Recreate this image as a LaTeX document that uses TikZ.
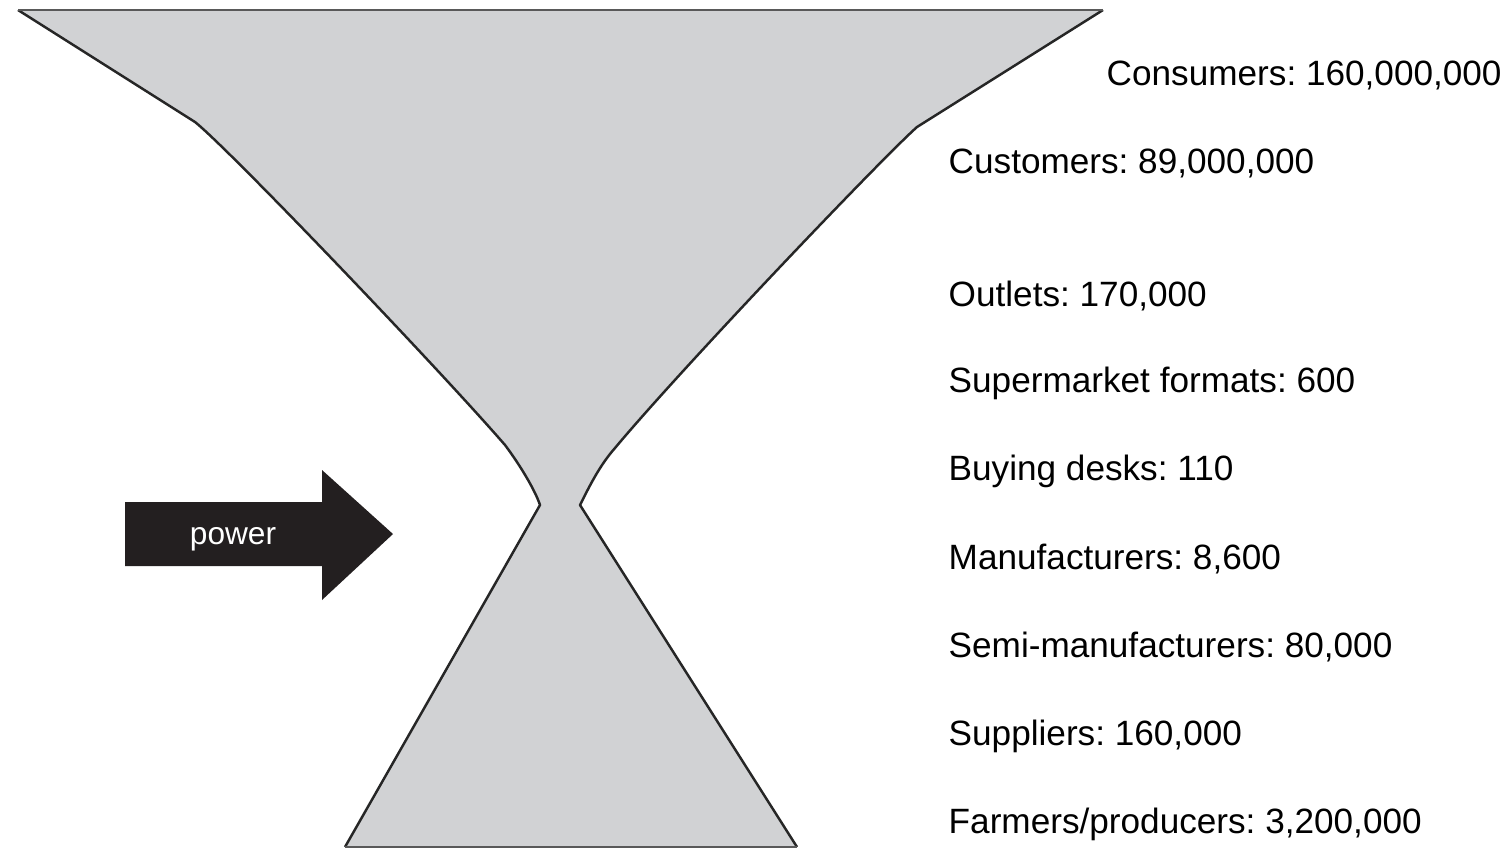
\documentclass[tikz,border=0pt]{standalone}
\usepackage{fontspec}
\setmainfont{Liberation Sans}
\frenchspacing
\definecolor{glassgray}{HTML}{D1D2D4}
\definecolor{arrowblack}{HTML}{231F20}
\begin{document}
\begin{tikzpicture}[x=0.01cm,y=-0.01cm]
    \useasboundingbox (0,0) rectangle (1504,848);

    % Draw hourglass
    \fill[glassgray] (18,10) -- (1103,10) -- (917,127)
        .. controls (880,160) and (680,370) .. (615,448)
        .. controls (600,465) and (590,485) .. (580,505)
        -- (797,847) -- (345,847) -- (540,505)
        .. controls (535,490) and (520,465) .. (505,445)
        .. controls (440,370) and (230,150) .. (195,122) -- cycle;
    \draw[black!85, line width=0.7pt, line join=round]
        (18,10) -- (195,122)
        .. controls (230,150) and (440,370) .. (505,445)
        .. controls (520,465) and (535,490) .. (540,505) -- (345,847);
    \draw[black!85, line width=0.7pt, line join=round]
        (1103,10) -- (917,127)
        .. controls (880,160) and (680,370) .. (615,448)
        .. controls (600,465) and (590,485) .. (580,505) -- (797,847);
    \draw[black!65, line width=0.6pt] (18,10) -- (1103,10);
    \draw[black!65, line width=0.6pt] (345,847) -- (797,847);

    % Power arrow
    \fill[arrowblack] (125,502) -- (322,502) -- (322,470) -- (393,534)
        -- (322,600) -- (322,566) -- (125,566) -- cycle;
    \node[text=white, font=\fontsize{9}{10}\selectfont] (power) at (233,539) {power};

    % Label the levels
    \node[anchor=west, inner sep=0pt, font=\fontsize{10}{12}\selectfont] (consumers) at (1106,75) {Consumers: 160,000,000};
    \foreach \name/\y/\txt in {customers/163/{Customers: 89,000,000},
        outlets/296/{Outlets: 170,000},
        formats/383/{Supermarket formats: 600},
        desks/471/{Buying desks: 110},
        manufacturers/559/{Manufacturers: 8,600},
        semi/647/{Semi-manufacturers: 80,000},
        suppliers/736/{Suppliers: 160,000},
        farmers/824/{Farmers/producers: 3,200,000}} {
        \node[anchor=west, inner sep=0pt, font=\fontsize{10}{12}\selectfont] (\name) at (948,\y) {\txt};
    }
\end{tikzpicture}
\end{document}
